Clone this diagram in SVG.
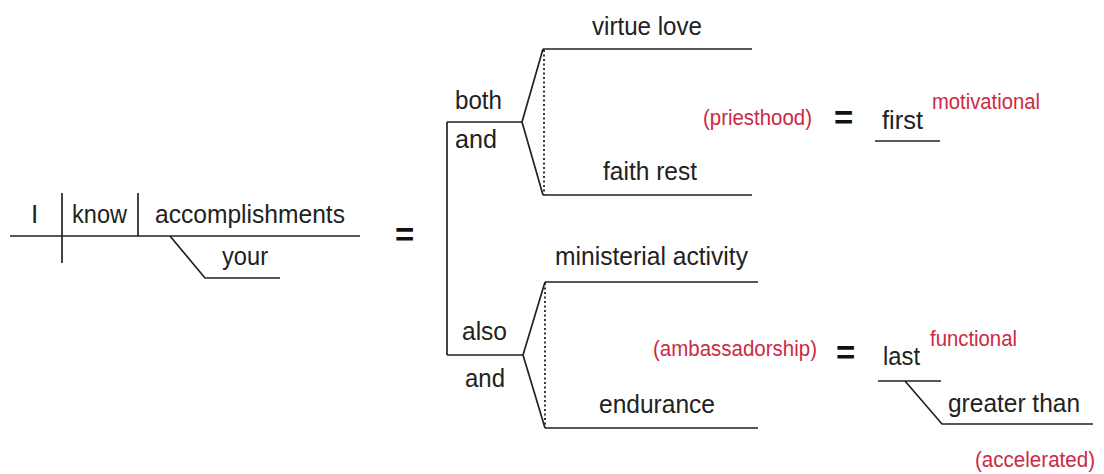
<svg xmlns="http://www.w3.org/2000/svg" width="1104" height="474" viewBox="0 0 1104 474">
<style>
.t{font-family:"Liberation Sans",Arial,sans-serif;font-size:26px;fill:#222}
.r{font-family:"Liberation Sans",Arial,sans-serif;font-size:22px;fill:#cc2a45}
.eq{font-family:"Liberation Sans",Arial,sans-serif;font-size:33px;font-weight:bold;fill:#111}
.l{stroke:#222;stroke-width:1.7;fill:none}
.d{stroke:#222;stroke-width:1.8;fill:none;stroke-dasharray:2 2.5}
</style>
<rect width="1104" height="474" fill="#fff"/>
<g id="connectors">
<path class="l" d="M10 236H360M62 193V263M138 193V236M170 236L205 278H280"/>
<path class="l" d="M447 122V355M447 122H522M447 355H523"/>
<path class="l" d="M543 49L522 122L543 195M543 49H752M543 195H752"/>
<path class="d" d="M544 50V195"/>
<path class="l" d="M545 282L523 355L545 428M545 282H758M545 428H758"/>
<path class="d" d="M545 283V428"/>
<path class="l" d="M875 141H940"/>
<path class="l" d="M878 381H941M905 381L942 424H1093"/>
</g>
<g id="clause">
<text class="t" x="31" y="223">I</text>
<text class="t" x="72" y="223" textLength="55" lengthAdjust="spacingAndGlyphs">know</text>
<text class="t" x="155" y="223" textLength="190" lengthAdjust="spacingAndGlyphs">accomplishments</text>
<text class="t" x="222" y="265" textLength="46" lengthAdjust="spacingAndGlyphs">your</text>
</g>
<g id="eq-main"><text class="eq" x="395" y="246">=</text></g>
<g id="both-and">
<text class="t" x="455" y="109" textLength="47" lengthAdjust="spacingAndGlyphs">both</text>
<text class="t" x="455" y="148" textLength="42" lengthAdjust="spacingAndGlyphs">and</text>
<text class="t" x="592" y="35" textLength="110" lengthAdjust="spacingAndGlyphs">virtue love</text>
<text class="t" x="603" y="180" textLength="94" lengthAdjust="spacingAndGlyphs">faith rest</text>
</g>
<g id="priesthood">
<text class="r" x="703" y="125" textLength="109" lengthAdjust="spacingAndGlyphs">(priesthood)</text>
<text class="eq" x="834" y="129">=</text>
<text class="t" x="882" y="129" textLength="41" lengthAdjust="spacingAndGlyphs">first</text>
<text class="r" x="932" y="109" textLength="108" lengthAdjust="spacingAndGlyphs">motivational</text>
</g>
<g id="also-and">
<text class="t" x="462" y="340" textLength="45" lengthAdjust="spacingAndGlyphs">also</text>
<text class="t" x="465" y="387" textLength="40" lengthAdjust="spacingAndGlyphs">and</text>
<text class="t" x="555" y="265" textLength="193" lengthAdjust="spacingAndGlyphs">ministerial activity</text>
<text class="t" x="599" y="413" textLength="116" lengthAdjust="spacingAndGlyphs">endurance</text>
</g>
<g id="ambassadorship">
<text class="r" x="653" y="356" textLength="164" lengthAdjust="spacingAndGlyphs">(ambassadorship)</text>
<text class="eq" x="836" y="364">=</text>
<text class="t" x="883" y="365" textLength="37" lengthAdjust="spacingAndGlyphs">last</text>
<text class="r" x="930" y="346" textLength="87" lengthAdjust="spacingAndGlyphs">functional</text>
<text class="t" x="948" y="412" textLength="132" lengthAdjust="spacingAndGlyphs">greater than</text>
<text class="r" x="975" y="467" textLength="120" lengthAdjust="spacingAndGlyphs">(accelerated)</text>
</g>
</svg>
